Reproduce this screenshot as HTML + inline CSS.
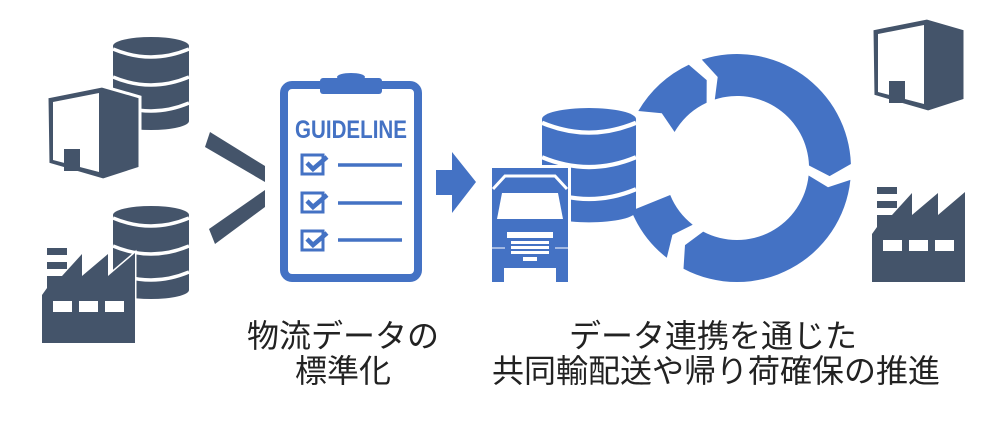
<!DOCTYPE html>
<html><head><meta charset="utf-8"><style>
html,body{margin:0;padding:0;background:#fff;}
svg{display:block;}
text{font-family:"Liberation Sans","Noto Sans CJK JP",sans-serif;}
</style></head><body>
<svg width="1000" height="436" viewBox="0 0 1000 436" xmlns="http://www.w3.org/2000/svg">
<defs>
<g id="db">
  <rect x="0" y="9" width="76" height="75" fill="currentColor"/>
  <ellipse cx="38" cy="9" rx="38" ry="9" fill="currentColor"/>
  <ellipse cx="38" cy="84" rx="38" ry="9" fill="currentColor"/>
  <path d="M0,12 Q38,28 76,12" fill="none" stroke="#fff" stroke-width="3.5"/>
  <path d="M0,40 Q38,56 76,40" fill="none" stroke="#fff" stroke-width="3.5"/>
  <path d="M0,66 Q38,82 76,66" fill="none" stroke="#fff" stroke-width="3.5"/>
</g>
<g id="bld">
  <polygon points="0,11 55,0 93,11 93,82 56,94 1,78" fill="#44546a" stroke="#fff" stroke-width="3"/>
  <polygon points="6,16 52,7 52,86 6,74" fill="#fff"/>
  <rect x="17" y="63" width="16" height="22" fill="#44546a"/>
</g>
<g id="fac">
  <rect x="5" y="0" width="20" height="7" fill="#44546a"/>
  <rect x="5" y="14" width="20" height="7" fill="#44546a"/>
  <polygon points="0,47 5,40 5,28 20,28 40,6 40,28 66,6 66,28 93,5 93,95 0,95" fill="#44546a"/>
  <rect x="11" y="53" width="19" height="11" fill="#fff"/>
  <rect x="37" y="53" width="19" height="11" fill="#fff"/>
  <rect x="63" y="53" width="19" height="11" fill="#fff"/>
</g>
</defs>

<use href="#db" x="113" y="37" style="color:#44546a"/>
<use href="#bld" x="47" y="86"/>
<use href="#db" x="113" y="206" style="color:#44546a"/>
<g transform="translate(42,248)">
  <polygon points="0,47 5,40 5,28 20,28 40,6 40,28 66,6 66,28 93,5 93,95 0,95" fill="#44546a" stroke="#fff" stroke-width="3"/>
</g>
<use href="#fac" x="42" y="248"/>

<polygon points="210,132 265,166 265,182 205,147" fill="#44546a"/>
<polygon points="265,190 265,207 215,244 209,229" fill="#44546a"/>

<rect x="284" y="85" width="134" height="193" rx="8" fill="#fff" stroke="#4472c4" stroke-width="8"/>
<rect x="320" y="78" width="62" height="16" rx="3" fill="#4472c4"/>
<ellipse cx="351" cy="77" rx="14" ry="4" fill="#4472c4"/>
<text x="351" y="138" text-anchor="middle" font-size="25" font-weight="bold" fill="#4472c4" textLength="112" lengthAdjust="spacingAndGlyphs">GUIDELINE</text>
<g fill="none" stroke="#4472c4">
  <rect x="302" y="155" width="21" height="19" stroke-width="3"/>
  <rect x="302" y="193" width="21" height="19" stroke-width="3"/>
  <rect x="302" y="231" width="21" height="19" stroke-width="3"/>
  <path d="M307,163 L313,169 L327,157 M307,201 L313,207 L327,195 M307,239 L313,245 L327,233" stroke-width="4.5"/>
  <path d="M338,165 H402 M338,203 H402 M338,240 H402" stroke-width="3.5"/>
</g>

<polygon points="436,170 452,170 452,152 476,182 452,213 452,195 436,195" fill="#4472c4"/>

<g transform="translate(542,108) scale(1.237,1.23)"><use href="#db" style="color:#4472c4"/></g>

<g>
  <rect x="490" y="165" width="81" height="105" fill="#fff"/>
  <rect x="492" y="168" width="76" height="100" fill="#4472c4"/>
  <rect x="492" y="265" width="12" height="17" fill="#4472c4"/>
  <rect x="556" y="265" width="12" height="17" fill="#4472c4"/>
  <polyline points="493,189 505,176 555,176 567,189" fill="none" stroke="#fff" stroke-width="3"/>
  <polygon points="502,193 558,193 563,219 497,219" fill="#fff"/>
  <rect x="507" y="232" width="46" height="6" fill="#fff"/>
  <rect x="511" y="241" width="38" height="3" fill="#fff"/>
  <rect x="511" y="246" width="38" height="3" fill="#fff"/>
  <rect x="511" y="251" width="38" height="3" fill="#fff"/>
  <rect x="523" y="257" width="14" height="4" fill="#fff"/>
  <path d="M492,248 H505 M555,248 H568" stroke="#fff" stroke-width="1"/>
</g>

<g fill="#4472c4">
  <path d="M638.3,111 A114,114 0 0 1 688.8,64.7 L706.7,80.1 L706.6,102.7 A72,72 0 0 0 674.6,132 L661.8,113.3 Z"/>
  <path d="M701.8,59.6 A114,114 0 0 1 850.9,164 L829.6,176.1 L809,165.5 A72,72 0 0 0 714.8,99.5 L717.7,77 Z"/>
  <path d="M850.4,179.9 A114,114 0 0 1 683.5,268.7 L685,245.1 L703.2,231.6 A72,72 0 0 0 808.6,175.5 L828,187.3 Z"/>
  <path d="M666.8,257.8 A114,114 0 0 1 631.3,210.7 L670.2,195 A72,72 0 0 0 692.7,224.7 L672.4,234.9 Z"/>
</g>

<use href="#bld" x="872" y="18"/>
<use href="#fac" x="872" y="187"/>

<g font-size="32" fill="#222" text-anchor="middle">
  <text x="343" y="347">物流データの</text>
  <text x="343" y="382">標準化</text>
  <text x="713" y="347">データ連携を通じた</text>
  <text x="716" y="382">共同輸配送や帰り荷確保の推進</text>
</g>
</svg>
</body></html>
